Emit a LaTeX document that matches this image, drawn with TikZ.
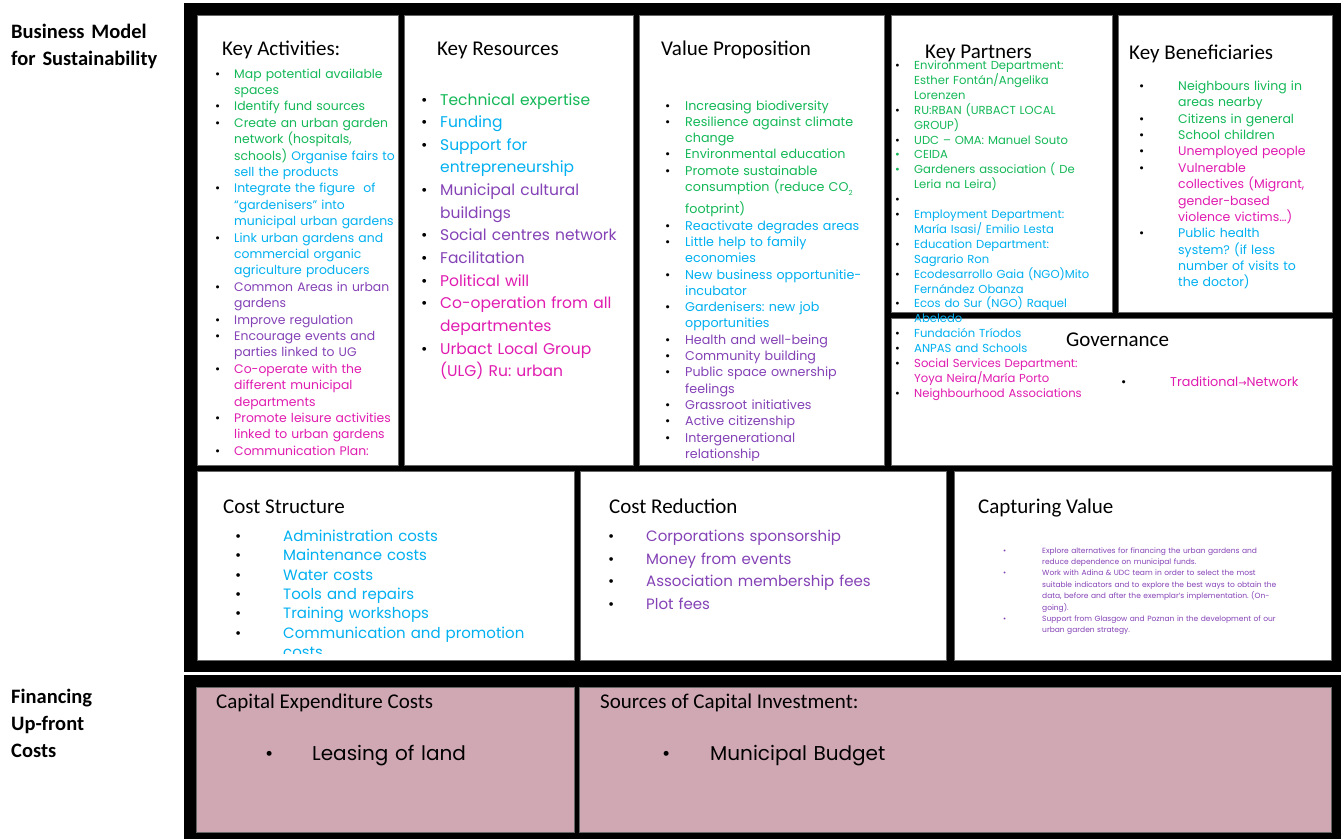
\documentclass[tikz,border=0pt]{standalone}
\usepackage{fontspec}
\setmainfont{Carlito}
\newfontfamily\gothic{Poppins}
\newfontfamily\arrowfont{DejaVu Sans}
\definecolor{bmgreen}{RGB}{20,184,88}
\definecolor{bmblue}{RGB}{0,176,240}
\definecolor{bmpurple}{RGB}{132,66,182}
\definecolor{bmmagenta}{RGB}{224,28,176}
\definecolor{bmpink}{RGB}{208,168,180}
\frenchspacing
\newlength{\itmind}
\newcommand{\itm}[3][black]{\hangindent=\itmind\hangafter=1\noindent
  \hbox to \itmind{\textcolor{#1}{\textbullet}\hfil}\textcolor{#2}{#3}\par}
\tikzset{
  panel/.style={fill=white, draw=black!60, line width=0.5pt},
  finpanel/.style={fill=bmpink, draw=black!60, line width=0.5pt},
  heading/.style={anchor=base west, inner sep=0pt, font=\fontsize{21}{25}\selectfont},
  sidelabel/.style={anchor=base west, inner sep=0pt, align=left, text width=170pt,
    font=\bfseries\fontsize{20.5}{27}\selectfont},
  itemlist/.style={anchor=base west, inner sep=0pt, align=left, text width=#1}
}
\begin{document}
\begin{tikzpicture}[x=1pt, y=-1pt]
\useasboundingbox (0,0) rectangle (1341,839);
\fill[white] (0,0) rectangle (1341,839);
\fill[black] (184,3) rectangle (1341,672);
\fill[black] (184,675) rectangle (1341,839);
\draw[panel] (197,15) rectangle (398,465);
\draw[panel] (404,15) rectangle (633,465);
\draw[panel] (639,15) rectangle (884,465);
\draw[panel] (891,15) rectangle (1112,312);
\draw[panel] (1118,15) rectangle (1332,312);
\draw[panel] (891,318) rectangle (1332,465);
\draw[panel] (197,471) rectangle (574,660);
\draw[panel] (580,471) rectangle (946,660);
\draw[panel] (954,471) rectangle (1331,660);
\draw[finpanel] (196,687) rectangle (574,832);
\draw[finpanel] (579,687) rectangle (1331,832);

\node[sidelabel] (bmlabel) at (11,38) {Business Model\\for Sustainability};
\node[sidelabel] (finlabel) at (11,703) {Financing\\Up-front\\Costs};

\node[heading] (activities) at (222,55) {Key Activities:};
\node[heading] (resources) at (437,55) {Key Resources};
\node[heading] (proposition) at (661,55) {Value Proposition};
\node[heading] (partners) at (925,58) {Key Partners};
\node[heading] (beneficiaries) at (1129,59) {Key Beneficiaries};
\node[heading] (governance) at (1066,346) {Governance};
\node[heading] (coststructure) at (223,513) {Cost Structure};
\node[heading] (costreduction) at (609,513) {Cost Reduction};
\node[heading] (capturing) at (978,513) {Capturing Value};
\node[heading] (capex) at (216,708) {Capital Expenditure Costs};
\node[heading] (sources) at (600,708) {Sources of Capital Investment:};

\node[itemlist=200pt, font=\gothic\fontsize{12.4}{16.4}\selectfont] (actitems) at (215,78) {\setlength{\itmind}{19pt}%
  \itm{bmgreen}{Map potential available\newline spaces}
  \itm{bmgreen}{Identify fund sources}
  \itm{bmgreen}{Create an urban garden\newline network (hospitals,\newline schools) \textcolor{bmblue}{Organise fairs to\newline sell the products}}
  \itm{bmblue}{Integrate the figure \ of\newline “gardenisers” into\newline municipal urban gardens}
  \itm{bmblue}{Link urban gardens and\newline commercial organic\newline agriculture producers}
  \itm{bmpurple}{Common Areas in urban\newline gardens}
  \itm{bmpurple}{Improve regulation}
  \itm{bmpurple}{Encourage events and\newline parties linked to UG}
  \itm{bmmagenta}{Co-operate with the\newline different municipal\newline departments}
  \itm{bmmagenta}{Promote leisure activities\newline linked to urban gardens}
  \itm{bmmagenta}{Communication Plan:}};

\node[itemlist=215pt, font=\gothic\fontsize{15.5}{22.64}\selectfont] (resitems) at (421,105) {\setlength{\itmind}{19pt}%
  \itm{bmgreen}{Technical expertise}
  \itm{bmblue}{Funding}
  \itm{bmblue}{Support for\newline entrepreneurship}
  \itm{bmpurple}{Municipal cultural\newline buildings}
  \itm{bmpurple}{Social centres network}
  \itm{bmpurple}{Facilitation}
  \itm{bmmagenta}{Political will}
  \itm{bmmagenta}{Co-operation from all\newline departmentes}
  \itm{bmmagenta}{Urbact Local Group\newline (ULG) Ru: urban}};

\begin{scope}
\clip (639,15) rectangle (884,460);
\node[itemlist=215pt, font=\gothic\fontsize{12.7}{16.3}\selectfont] (propitems) at (665,110) {\setlength{\itmind}{20pt}%
  \itm{bmgreen}{Increasing biodiversity}
  \itm{bmgreen}{Resilience against climate\newline change}
  \itm{bmgreen}{Environmental education}
  \itm{bmgreen}{Promote sustainable\newline consumption (reduce CO\raisebox{-4pt}{\fontsize{7}{7}\selectfont 2}\vadjust{\vskip 6pt}\newline footprint)}
  \itm{bmblue}{Reactivate degrades areas}
  \itm{bmblue}{Little help to family\newline economies}
  \itm{bmblue}{New business opportunitie-\newline incubator}
  \itm{bmblue}{Gardenisers: new job\newline opportunities}
  \itm{bmpurple}{Health and well-being}
  \itm{bmpurple}{Community building}
  \itm{bmpurple}{Public space ownership\newline feelings}
  \itm{bmpurple}{Grassroot initiatives}
  \itm{bmpurple}{Active citizenship}
  \itm{bmpurple}{Intergenerational\newline relationship}};
\end{scope}

\node[itemlist=220pt, font=\gothic\fontsize{11.6}{14.9}\selectfont] (partitems) at (895,69.5) {\setlength{\itmind}{19pt}%
  \itm{bmgreen}{Environment Department:\newline Esther Fontán/Angelika\newline Lorenzen}
  \itm{bmgreen}{RU:RBAN (URBACT LOCAL\newline GROUP)}
  \itm{bmgreen}{UDC – OMA: Manuel Souto}
  \itm[bmgreen]{bmgreen}{CEIDA}
  \itm[bmgreen]{bmgreen}{Gardeners association ( De\newline Leria na Leira)}
  \itm{black}{\strut}
  \itm{bmblue}{Employment Department:\newline María Isasi/ Emilio Lesta}
  \itm{bmblue}{Education Department:\newline Sagrario Ron}
  \itm{bmblue}{Ecodesarrollo Gaia (NGO)Mito\newline Fernández Obanza}
  \itm{bmblue}{Ecos do Sur (NGO) Raquel\newline Abeledo}
  \itm{bmblue}{Fundación Tríodos}
  \itm{bmblue}{ANPAS and Schools}
  \itm{bmmagenta}{Social Services Department:\newline Yoya Neira/María Porto}
  \itm{bmmagenta}{Neighbourhood Associations}};

\node[itemlist=190pt, font=\gothic\fontsize{12.5}{16.36}\selectfont] (beneitems) at (1139,90.5) {\setlength{\itmind}{39pt}%
  \itm{bmgreen}{Neighbours living in\newline areas nearby}
  \itm{bmgreen}{Citizens in general}
  \itm{bmgreen}{School children}
  \itm{bmmagenta}{Unemployed people}
  \itm{bmmagenta}{Vulnerable\newline collectives (Migrant,\newline gender-based\newline violence victims…)}
  \itm{bmblue}{Public health\newline system? (if less\newline number of visits to\newline the doctor)}};

\node[itemlist=200pt, font=\gothic\fontsize{12.8}{16}\selectfont] (govitems) at (1121,386) {\setlength{\itmind}{49pt}%
  \itm{bmmagenta}{Traditional{\arrowfont\fontsize{10}{10}\selectfont →}Network}};

\begin{scope}
\clip (197,471) rectangle (574,653);
\node[itemlist=330pt, font=\gothic\fontsize{15}{19.33}\selectfont] (costitems) at (235,541.5) {\setlength{\itmind}{48pt}%
  \itm{bmblue}{Administration costs}
  \itm{bmblue}{Maintenance costs}
  \itm{bmblue}{Water costs}
  \itm{bmblue}{Tools and repairs}
  \itm{bmblue}{Training workshops}
  \itm{bmblue}{Communication and promotion\newline costs}};
\end{scope}

\node[itemlist=330pt, font=\gothic\fontsize{15}{22.5}\selectfont] (reduceitems) at (608,541.5) {\setlength{\itmind}{38pt}%
  \itm{bmpurple}{Corporations sponsorship}
  \itm{bmpurple}{Money from events}
  \itm{bmpurple}{Association membership fees}
  \itm{bmpurple}{Plot fees}};

\node[itemlist=320pt, font=\gothic\fontsize{7.5}{11.4}\selectfont] (captureitems) at (1003,553) {\setlength{\itmind}{39pt}%
  \itm[bmpurple]{bmpurple}{Explore alternatives for financing the urban gardens and\newline reduce dependence on municipal funds.}
  \itm[bmpurple]{bmpurple}{Work with Adina \& UDC team in order to select the most\newline suitable indicators and to explore the best ways to obtain the\newline data, before and after the exemplar’s implementation. (On-\newline going).}
  \itm[bmpurple]{bmpurple}{Support from Glasgow and Poznan in the development of our\newline urban garden strategy.}};

\node[itemlist=300pt, font=\gothic\fontsize{20}{24}\selectfont] (capexitems) at (265,760) {\setlength{\itmind}{47pt}%
  \itm{black}{Leasing of land}};
\node[itemlist=400pt, font=\gothic\fontsize{20}{24}\selectfont] (sourceitems) at (662,760) {\setlength{\itmind}{48pt}%
  \itm{black}{Municipal Budget}};
\end{tikzpicture}
\end{document}
